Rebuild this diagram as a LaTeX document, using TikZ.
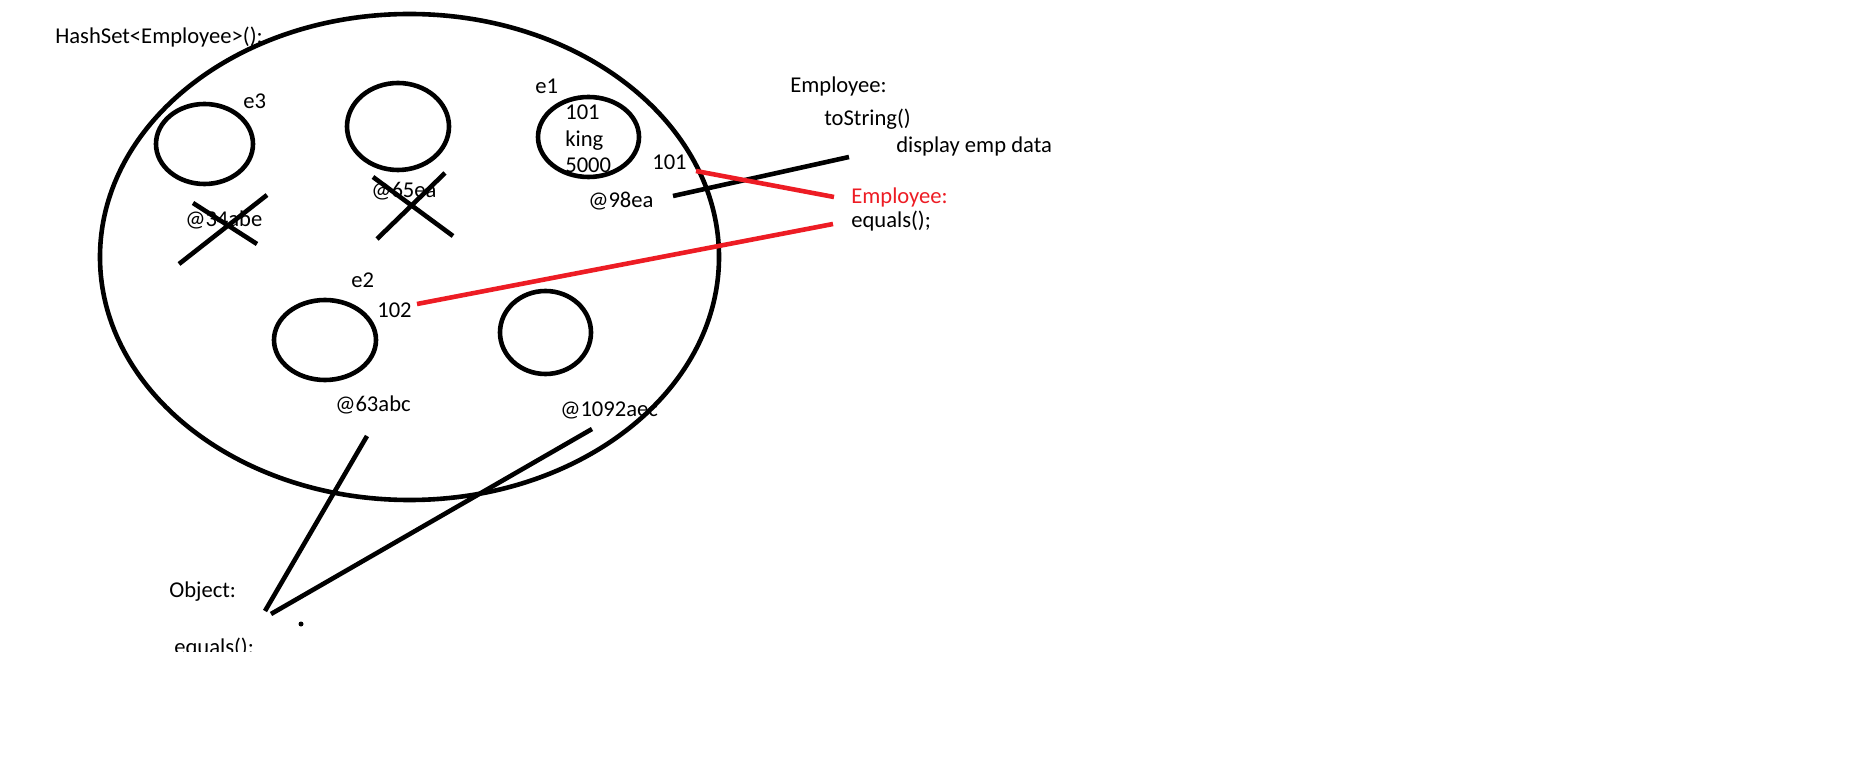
\documentclass[tikz,border=0pt]{standalone}
\usepackage{fontspec}
\setmainfont{Carlito}
\usetikzlibrary{positioning, shapes.geometric}
\definecolor{paintred}{RGB}{237,28,36}

\begin{document}
\begin{tikzpicture}[x=0.5pt, y=-0.5pt, line width=2.3pt,
  every node/.style={inner sep=0pt, anchor=base west, font=\fontsize{11.3}{13}\selectfont},
  bucket/.style={draw, ellipse, anchor=center}]
\useasboundingbox (0,0) rectangle (1866,769);
\node (title) at (53,44) {HashSet<Employee>();};
\node[bucket, minimum width=309.5pt, minimum height=243pt] (set) at (409.5,257) {};
\node[bucket, minimum width=48.5pt, minimum height=40pt] (b3) at (204.5,144) {};
\node[bucket, minimum width=51pt, minimum height=43.5pt] (b65) at (398,126.5) {};
\node[bucket, minimum width=50.5pt, minimum height=40pt] (b1) at (588.5,137) {};
\node[bucket, minimum width=51pt, minimum height=40pt] (b2) at (325,340) {};
\node[bucket, minimum width=45.5pt, minimum height=41.5pt] (b1092) at (545.5,332.5) {};
\node (e3) at (241,109) {e3};
\node (hash3) at (183,227) {@34abe};
\node (hash65) at (369,198) {@65ea};
\node (e1) at (533,94) {e1};
\node (id1) at (563,120) {101};
\node (name1) at (563,147) {king};
\node (sal1) at (563,173) {5000};
\node (key1) at (650,170) {101};
\node (hash1) at (586,208) {@98ea};
\node (e2) at (349,288) {e2};
\node (key2) at (375,318) {102};
\node (hash2) at (333,412) {@63abc};
\node (hash1092) at (558,416) {@1092aec};
\node (emp) at (788,92.7) {Employee:};
\node (tostr) at (822,126) {toString()};
\node (display) at (894,152.7) {display emp data};
\node[text=paintred] (emp eq) at (849,204) {Employee:};
\node (emp equals) at (849,228) {equals();};
\node (obj) at (167,597) {Object:};
\begin{scope}
\clip (0,0) rectangle (1866,651);
\node (obj equals) at (172,654) {equals();};
\end{scope}
\draw (179,264) -- (267,195) (193,203) -- (257,244);
\draw (377,239) -- (445,173) (373,177) -- (453,236);
\coordinate (tostr start) at (673,196); \coordinate (tostr end) at (849,157);
\coordinate (key1 start) at (696,171); \coordinate (key1 end) at (834,197);
\coordinate (key2 start) at (417,304); \coordinate (key2 end) at (833,224);
\coordinate (hash2 start) at (367,436); \coordinate (hash1092 start) at (592,429);
\coordinate (obj a) at (265,611); \coordinate (obj b) at (271,614);
\draw (tostr start) -- (tostr end);
\draw[paintred] (key1 start) -- (key1 end) (key2 start) -- (key2 end);
\draw (hash2 start) -- (obj a) (hash1092 start) -- (obj b);
\fill (301,624) circle [radius=2.5];
\end{tikzpicture}
\end{document}
